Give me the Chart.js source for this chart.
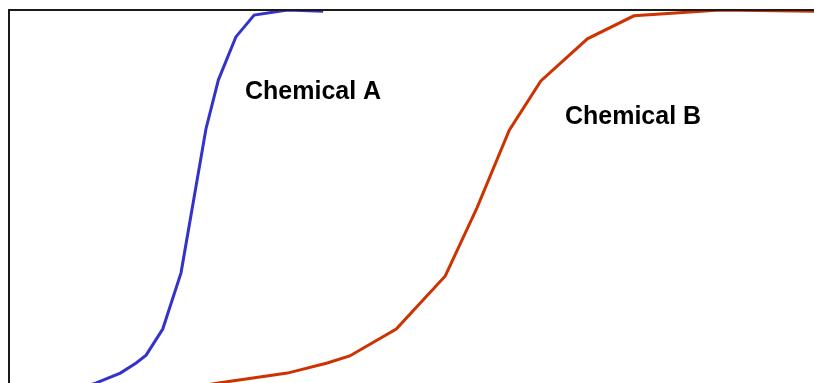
<!DOCTYPE html>
<html lang="en">
<head>
    <meta charset="UTF-8">
    <title>Chemical A vs Chemical B</title>
    <script src="https://cdn.jsdelivr.net/npm/chart.js"></script>
    <style>
        html, body { margin: 0; padding: 0; background: #fff; overflow: hidden; }
        .chartBox { width: 840px; height: 400px; }
    </style>
</head>
<body>
    <div class="chartBox">
        <canvas id="doseChart" width="840" height="400"></canvas>
    </div>
    <script>
        // Chemical A readings (x = dose, y = response %)
        var doseA = [7.6, 10.5, 13.4, 15.3, 16.5, 18.5, 20.7, 23.7, 25.2, 27.3, 29.5, 33.5, 37.8];
        var respA = [2.3, 4.4, 6.9, 9.5, 11.5, 18.2, 32.6, 69.5, 82.1, 93.1, 98.7, 100, 99.7];

        // Chemical B readings
        var doseB = [23.0, 25.4, 33.5, 38.3, 41.0, 46.6, 52.5, 56.3, 60.2, 64.0, 69.6, 75.2, 85.6, 96.9, 100];
        var respB = [3.6, 4.4, 6.9, 9.5, 11.3, 18.2, 31.8, 49.2, 69.2, 81.8, 92.6, 98.5, 100, 99.7, 99.7];

        var seriesNames = ["Chemical A", "Chemical B"];
        // where the name of each curve sits (data units, text baseline)
        var nameAt = [{ x: 28.4, y: 77.1 }, { x: 66.9, y: 70.7 }];

        function toPoints(xs, ys) {
            return xs.map(function (x, i) { return { x: x, y: ys[i] }; });
        }

        // frame on the left and top edges + curve names
        var framePlugin = {
            id: 'frame',
            afterDatasetsDraw: function (chart) {
                var ctx = chart.ctx, area = chart.chartArea;
                ctx.save();
                ctx.strokeStyle = '#1a1a1a';
                ctx.lineWidth = 2;
                ctx.beginPath();
                ctx.moveTo(area.left, area.bottom);
                ctx.lineTo(area.left, area.top);
                ctx.lineTo(area.right, area.top);
                ctx.stroke();

                ctx.fillStyle = '#000';
                ctx.font = 'bold 25px "Liberation Sans", Arial, sans-serif';
                ctx.textBaseline = 'alphabetic';
                seriesNames.forEach(function (name, i) {
                    var px = chart.scales.x.getPixelForValue(nameAt[i].x);
                    var py = chart.scales.y.getPixelForValue(nameAt[i].y);
                    ctx.fillText(name, px, py);
                });
                ctx.restore();
            }
        };

        var ctx = document.getElementById('doseChart').getContext('2d');
        new Chart(ctx, {
            type: 'line',
            data: {
                datasets: [{
                    label: seriesNames[0],
                    data: toPoints(doseA, respA),
                    borderColor: '#3333cc',
                    borderWidth: 3,
                    pointRadius: 0,
                    tension: 0
                }, {
                    label: seriesNames[1],
                    data: toPoints(doseB, respB),
                    borderColor: '#cc3300',
                    borderWidth: 3,
                    pointRadius: 0,
                    tension: 0
                }]
            },
            options: {
                responsive: false,
                animation: false,
                layout: { padding: { left: 9, top: 10, right: 0, bottom: 0 } },
                plugins: {
                    legend: { display: false },
                    tooltip: { enabled: false }
                },
                scales: {
                    x: { type: 'linear', min: 0, max: 100, display: false },
                    y: { type: 'linear', min: 0, max: 100, display: false }
                }
            },
            plugins: [framePlugin]
        });
    </script>
</body>
</html>
